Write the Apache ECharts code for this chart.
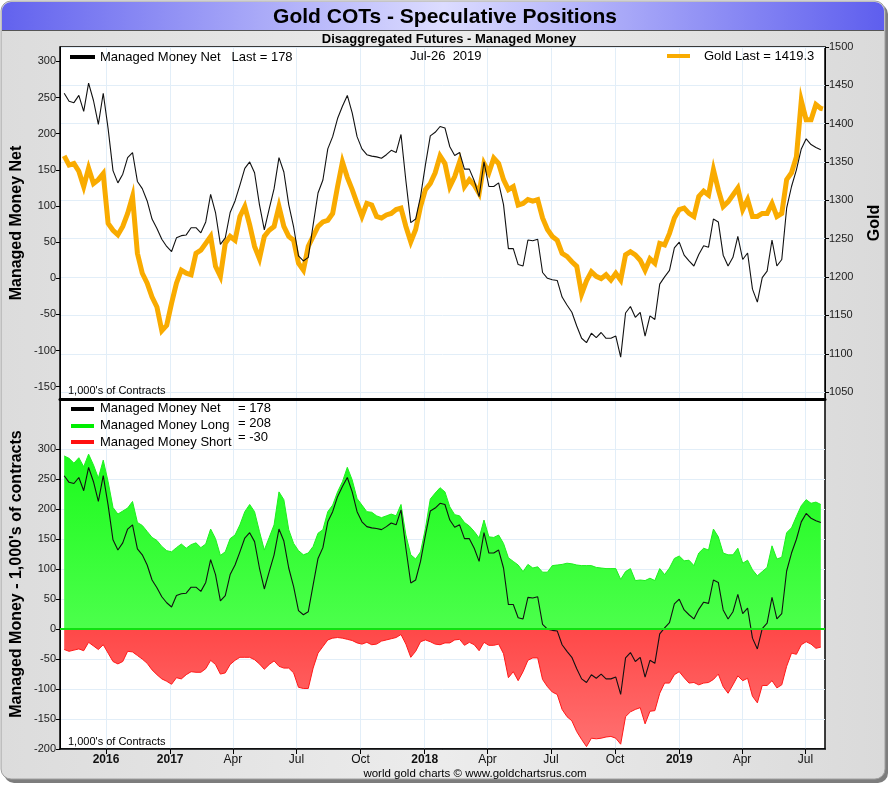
<!DOCTYPE html>
<html>
<head>
<meta charset="utf-8">
<title>Gold COTs - Speculative Positions</title>
<script src="https://cdn.jsdelivr.net/npm/echarts@6/dist/echarts.min.js"></script>
<style>
	html, body { margin: 0; padding: 0; background: #fff; }
	#chart { width: 890px; height: 785px; }
</style>
</head>
<body>
<div id="chart"></div>
<script>
// weekly COT report dates (Tuesdays), first one 2016-08-02, 156 reports
const firstReport = '2016-08-02';
const reportCount = 156;

// managed money, 1,000's of contracts
const mmNet = [
	256, 245, 243, 253, 231, 270, 246, 213, 256, 207,
	149, 132, 144, 167, 174, 134, 124, 107, 82, 69,
	54, 44, 37, 56, 59, 60, 70, 70, 63, 78,
	116, 91, 47, 56, 91, 107, 129, 152, 161, 146,
	102, 67, 96, 124, 167, 147, 102, 71, 31,
	24, 29, 74, 118, 136, 179, 196, 221, 238, 253,
	229, 196, 179, 171, 169, 168, 166, 171, 177, 174,
	199, 135, 77, 82, 113, 157, 197, 202, 210, 208,
	182, 170, 174, 151, 151, 135, 113, 161, 127, 127,
	132, 102, 41, 41, 19, 17, 53, 52, 54, 8,
	0, -2, -3, -26, -37, -47, -66, -83, -89, -76,
	-82,
	-75, -83, -83, -80, -109, -48, -39, -54, -47, -80,
	-52, -57, -8, 2, 11, 42, 50, 32, 24, 17,
	33, 45, 43, 82, 78, 32, 17, 29, 58, 26,
	35, -15, -33, 1, 10, 53, 17, 26, 97, 127,
	150, 179, 193, 185, 181, 178
];

const mmLong = [
	289, 285, 277, 286, 271, 292, 274, 252, 282, 246,
	203, 192, 197, 202, 213, 178, 173, 163, 153, 148,
	138, 131, 129, 136, 142, 135, 141, 144, 136, 142,
	167, 151, 123, 129, 151, 157, 174, 196, 208, 196,
	163, 132, 153, 174, 229, 216, 166, 143, 131,
	124, 127, 138, 160, 166, 196, 207, 229, 246, 270,
	249, 218, 207, 196, 195, 189, 186, 189, 192, 189,
	208, 157, 124, 117, 129, 168, 217, 227, 236, 229,
	204, 191, 189, 178, 172, 163, 152, 182, 154, 153,
	157, 143, 119, 113, 107, 96, 108, 102, 104, 95,
	95, 106, 107, 108, 110, 109, 107, 106, 106, 106,
	103,
	102, 101, 101, 101, 83, 96, 101, 81, 82, 81,
	85, 81, 101, 91, 102, 118, 122, 114, 115, 106,
	127, 135, 132, 167, 154, 127, 124, 124, 135, 110,
	115, 99, 89, 96, 103, 139, 117, 120, 161, 169,
	188, 206, 216, 210, 212, 208
];

const mmShort = [
	-34, -37, -35, -33, -36, -22, -28, -34, -26, -40,
	-54, -58, -54, -37, -38, -44, -50, -57, -68, -76,
	-83, -87, -92, -81, -83, -76, -71, -72, -72, -66,
	-52, -59, -75, -73, -59, -52, -47, -47, -47, -51,
	-58, -67, -59, -53, -62, -65, -65, -73, -97,
	-99, -99, -65, -40, -29, -18, -15, -14, -15, -17,
	-19, -23, -25, -22, -26, -25, -20, -18, -16, -14,
	-9, -25, -47, -37, -21, -18, -21, -25, -26, -23,
	-23, -18, -17, -27, -22, -26, -36, -22, -27, -27,
	-25, -41, -81, -71, -86, -71, -52, -48, -48, -84,
	-96, -105, -109, -134, -146, -153, -171, -184, -196, -182,
	-183,
	-182, -180, -179, -182, -192, -146, -138, -134, -131, -158,
	-137, -136, -107, -90, -90, -76, -71, -81, -90, -89,
	-93, -90, -89, -84, -75, -96, -107, -93, -78, -86,
	-82, -112, -123, -94, -94, -86, -98, -93, -62, -40,
	-42, -26, -21, -25, -32, -30
];

// gold price on the report dates, plus the last close
const goldPrice = [
	1358, 1346, 1348, 1338, 1318, 1342, 1322, 1327, 1335, 1270,
	1261, 1255, 1266, 1283, 1305, 1231, 1205, 1192, 1174, 1161,
	1130, 1137, 1166, 1192, 1209, 1205, 1203, 1231, 1235, 1244,
	1253, 1214, 1201, 1244, 1253, 1248, 1279, 1292, 1268, 1240,
	1224, 1253, 1261, 1266, 1292, 1266, 1253, 1248, 1218, 1209,
	1240, 1253, 1266, 1272, 1274, 1283, 1318, 1350, 1330,
	1314, 1296, 1279, 1296, 1294, 1279, 1277, 1281, 1283, 1288,
	1290, 1266, 1246, 1262, 1292, 1314, 1322, 1336, 1358, 1348,
	1318, 1331, 1350, 1318, 1327, 1320, 1309, 1348, 1336, 1355,
	1348, 1327, 1314, 1318, 1294, 1296, 1301, 1299, 1301, 1277,
	1262, 1253, 1248, 1231, 1227, 1220, 1214, 1178, 1195, 1207,
	1201,
	1198, 1203, 1196, 1205, 1196, 1229, 1233, 1229, 1222, 1209,
	1224, 1218, 1244, 1242, 1257, 1277, 1288, 1290, 1283, 1279,
	1305, 1312, 1307, 1340, 1314, 1292, 1298, 1307, 1316, 1288,
	1301, 1279, 1279, 1283, 1283, 1296, 1279, 1283, 1327, 1336,
	1357, 1430, 1405, 1405, 1425, 1420
];
const goldLastDate = '2019-07-26';
const goldLast = 1419.3;

// axis ticks
const xStart = '2016-07-27';
const xEnd = '2019-07-29';
const quarterTicks = [
	'2016-10-01', '2017-01-01', '2017-04-01', '2017-07-01', '2017-10-01', '2018-01-01',
	'2018-04-01', '2018-07-01', '2018-10-01', '2019-01-01', '2019-04-01', '2019-07-01'
];
const quarterLabels = ['2016', '2017', 'Apr', 'Jul', 'Oct', '2018', 'Apr', 'Jul', 'Oct', '2019', 'Apr', 'Jul'];
const netTicks = [-150, -100, -50, 0, 50, 100, 150, 200, 250, 300];
const goldTicks = [1050, 1100, 1150, 1200, 1250, 1300, 1350, 1400, 1450, 1500];
const mmTicks = [-200, -150, -100, -50, 0, 50, 100, 150, 200, 250, 300];

const sans = "'Liberation Sans', Arial, sans-serif";
const DAY = 86400000;

const ts = (s) => Date.parse(s + 'T00:00:00Z');

function reportDates() {
	const out = [];
	const t0 = ts(firstReport);
	for (let i = 0; i < reportCount; i++) out.push(t0 + i * 7 * DAY);
	return out;
}

const dates = reportDates();
const pairs = (vals) => vals.map((v, i) => [dates[i], v]);
const goldData = pairs(goldPrice).concat([[ts(goldLastDate), goldLast]]);
const quarterTs = quarterTicks.map(ts);

const gridLine = { show: true, lineStyle: { color: '#e2eef8', width: 1 } };

function quarterLabel(val) {
	const i = quarterTs.indexOf(val);
	if (i < 0) return '';
	const txt = quarterLabels[i];
	return /^\d{4}$/.test(txt) ? '{y|' + txt + '}' : '{m|' + txt + '}';
}

const chart = echarts.init(document.getElementById('chart'), null, { renderer: 'canvas' });

const lastNet = mmNet[mmNet.length - 1];
const lastLong = mmLong[mmLong.length - 1];
const lastShort = mmShort[mmShort.length - 1];

function xAxisFor(gridIndex, withLabels) {
	return {
		type: 'value', gridIndex: gridIndex, min: ts(xStart), max: ts(xEnd),
		axisLine: { show: true, onZero: false, lineStyle: { color: '#000', width: withLabels ? 1.5 : 3 } },
		axisTick: { show: withLabels, length: 5, lineStyle: { color: '#000' }, customValues: quarterTs },
		axisLabel: {
			show: withLabels, customValues: quarterTs, margin: 5, hideOverlap: false,
			formatter: quarterLabel,
			rich: {
				y: { fontFamily: sans, fontWeight: 'bold', fontSize: 12, color: '#111' },
				m: { fontFamily: sans, fontSize: 12, color: '#111' }
			}
		},
		splitLine: gridLine
	};
}

function yAxisFor(gridIndex, position, min, max, ticks, name, gap, split) {
	return {
		type: 'value', gridIndex: gridIndex, position: position, min: min, max: max,
		name: name, nameLocation: 'middle', nameRotate: 90, nameGap: gap, nameMoveOverlap: false,
		nameTextStyle: { fontFamily: sans, fontWeight: 'bold', fontSize: 16, color: '#000' },
		axisLine: { show: true, lineStyle: { color: '#000' } },
		axisTick: { show: true, length: 4, lineStyle: { color: '#000' }, customValues: ticks },
		axisLabel: {
			customValues: ticks, color: '#222', fontSize: 11, fontFamily: sans, margin: 4,
			formatter: (v) => String(v)
		},
		splitLine: split ? gridLine : { show: false }
	};
}

function text(x, y, str, font, align) {
	return {
		type: 'text', z: 50, x: x, y: y,
		style: { text: str, font: font, fill: '#000', align: align || 'left', verticalAlign: 'middle' }
	};
}

function legendLine(x1, x2, y, color) {
	return { type: 'line', z: 50, shape: { x1: x1, y1: y, x2: x2, y2: y }, style: { stroke: color, lineWidth: 4 } };
}

const option = {
	animation: false,
	backgroundColor: '#ffffff',
	graphic: [
		// frame
		{ type: 'rect', z: -20, shape: { x: 4, y: 4, width: 884, height: 779, r: 10 }, style: { fill: '#7d7d7d' } },
		{
			type: 'rect', z: -19, shape: { x: 1, y: 1, width: 884, height: 778, r: 10 },
			style: {
				fill: new echarts.graphic.LinearGradient(0, 0, 1, 0, [
					{ offset: 0, color: '#dcdcdc' }, { offset: 0.5, color: '#ececec' }, { offset: 1, color: '#dadada' }
				]),
				stroke: '#a0a0a0', lineWidth: 1
			}
		},
		{
			type: 'rect', z: -18, shape: { x: 2, y: 2, width: 882, height: 28, r: [9, 9, 0, 0] },
			style: {
				fill: new echarts.graphic.LinearGradient(0, 0, 1, 0, [
					{ offset: 0, color: '#6262ee' }, { offset: 0.5, color: '#dcdcff' }, { offset: 1, color: '#5e5eee' }
				])
			}
		},
		{ type: 'line', z: -17, shape: { x1: 2, y1: 30.5, x2: 884, y2: 30.5 }, style: { stroke: '#555', lineWidth: 1 } },
		text(445, 17, 'Gold COTs - Speculative Positions', 'bold 21px ' + sans, 'center'),
		text(449, 39, 'Disaggregated Futures - Managed Money', 'bold 13px ' + sans, 'center'),
		// top legend
		legendLine(70, 95, 57, '#000'),
		text(100, 57, 'Managed Money Net   Last = ' + lastNet, '13px ' + sans),
		text(410, 56, 'Jul-26  2019', '13px ' + sans),
		legendLine(667, 690, 56, '#f9ab00'),
		text(704, 56, 'Gold Last = ' + goldLast, '13px ' + sans),
		text(68, 391, "1,000's of Contracts", '11px ' + sans),
		// bottom legend
		legendLine(71, 94, 409, '#000'),
		legendLine(71, 94, 426, '#00ee00'),
		legendLine(71, 94, 442, '#ff1010'),
		text(100, 408, 'Managed Money Net', '13px ' + sans),
		text(100, 425, 'Managed Money Long', '13px ' + sans),
		text(100, 442, 'Managed Money Short', '13px ' + sans),
		text(238, 408, '= ' + lastNet, '13px ' + sans),
		text(238, 423, '= ' + lastLong, '13px ' + sans),
		text(238, 437, '= ' + lastShort, '13px ' + sans),
		text(68, 742, "1,000's of Contracts", '11px ' + sans),
		text(475, 774, 'world gold charts \u00a9 www.goldchartsrus.com', '11.5px ' + sans, 'center')
	],
	grid: [
		{
			left: 60, top: 47, width: 765, height: 352, outerBoundsMode: 'none', containLabel: false,
			show: true, backgroundColor: '#fff', borderColor: '#000', borderWidth: 1.5
		},
		{
			left: 60, top: 399, width: 765, height: 350, outerBoundsMode: 'none', containLabel: false,
			show: true, backgroundColor: '#fff', borderColor: '#000', borderWidth: 1.5
		}
	],
	xAxis: [xAxisFor(0, false), xAxisFor(1, true)],
	yAxis: [
		yAxisFor(0, 'left', -167, 320, netTicks, 'Managed Money Net', 35, false),
		yAxisFor(0, 'right', 1041, 1500, goldTicks, 'Gold', 42, true),
		yAxisFor(1, 'left', -200, 384, mmTicks, "Managed Money - 1,000's of contracts", 35, true)
	],
	series: [
		{
			name: 'Gold', type: 'line', xAxisIndex: 0, yAxisIndex: 1, data: goldData,
			showSymbol: false, z: 2, lineStyle: { color: '#f9ab00', width: 5, join: 'miter' }
		},
		{
			name: 'Managed Money Net', type: 'line', xAxisIndex: 0, yAxisIndex: 0, data: pairs(mmNet),
			showSymbol: false, z: 3, lineStyle: { color: '#111', width: 1.1 }
		},
		{
			name: 'Managed Money Long', type: 'line', xAxisIndex: 1, yAxisIndex: 2, data: pairs(mmLong),
			showSymbol: false, z: 2, lineStyle: { color: '#1ef01e', width: 1 },
			areaStyle: {
				origin: 0, opacity: 1,
				color: new echarts.graphic.LinearGradient(0, 0, 0, 1, [
					{ offset: 0, color: '#1cfb1c' }, { offset: 1, color: '#4cff4c' }
				])
			},
			markLine: {
				silent: true, symbol: 'none', label: { show: false },
				lineStyle: { color: '#10e010', width: 2, type: 'solid' },
				data: [{ yAxis: 0 }]
			}
		},
		{
			name: 'Managed Money Short', type: 'line', xAxisIndex: 1, yAxisIndex: 2, data: pairs(mmShort),
			showSymbol: false, z: 2, lineStyle: { color: '#ff1818', width: 1 },
			areaStyle: {
				origin: 0, opacity: 1,
				color: new echarts.graphic.LinearGradient(0, 0, 0, 1, [
					{ offset: 0, color: '#ff4848' }, { offset: 1, color: '#ff7070' }
				])
			}
		},
		{
			name: 'Managed Money Net (lower)', type: 'line', xAxisIndex: 1, yAxisIndex: 2, data: pairs(mmNet),
			showSymbol: false, z: 4, lineStyle: { color: '#111', width: 1.1 }
		}
	]
};

chart.setOption(option);
</script>
</body>
</html>
